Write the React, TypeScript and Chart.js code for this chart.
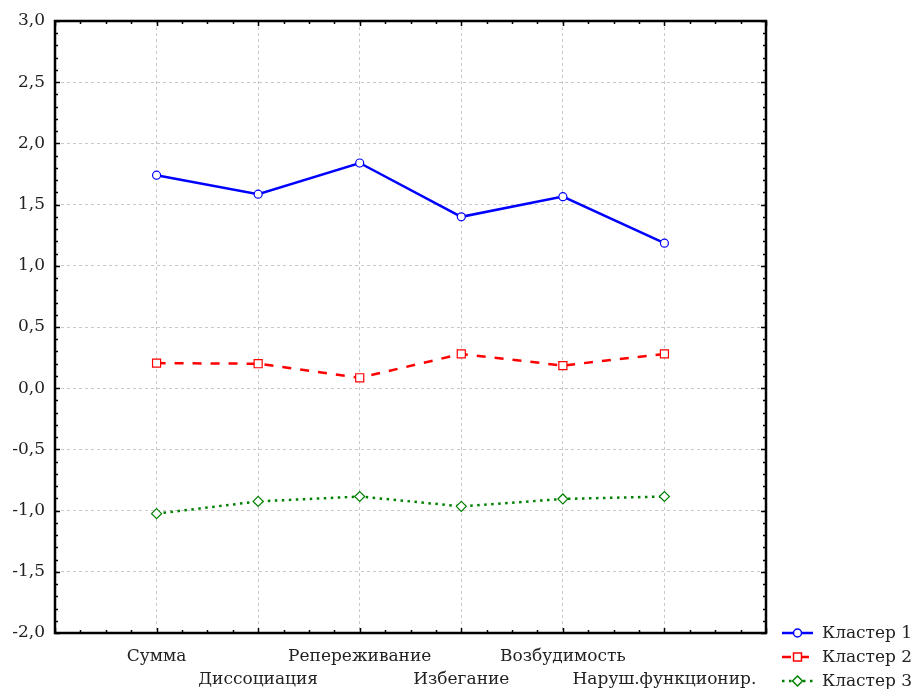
import React, { useEffect, useRef } from 'react';
import { Chart, registerables } from 'chart.js';

Chart.register(...registerables);

const categories = ['Сумма', 'Диссоциация', 'Репереживание', 'Избегание', 'Возбудимость', 'Наруш.функционир.'];
const seriesNames = ['Кластер 1', 'Кластер 2', 'Кластер 3'];
const cluster1 = [1.74, 1.585, 1.84, 1.40, 1.565, 1.185];
const cluster2 = [0.205, 0.20, 0.085, 0.28, 0.185, 0.28];
const cluster3 = [-1.025, -0.925, -0.885, -0.965, -0.905, -0.885];
const yTicksMin = -2;
const yTicksMax = 3;

const FONT = '"DejaVu Serif", serif';

const frameAndTicks = {
  id: 'frameAndTicks',
  afterDraw(chart: any) {
    const { ctx, chartArea: a, scales } = chart;
    const xs = scales.x;
    const ys = scales.y;
    ctx.save();
    ctx.strokeStyle = '#000';
    ctx.lineWidth = 1.5;
    ctx.beginPath();
    for (let i = 0; i <= 28; i++) {
      const v = i / 4;
      const px = Math.round(xs.getPixelForValue(v)) + 0.5;
      const len = i % 4 === 0 ? 5 : 3;
      ctx.moveTo(px, a.bottom);
      ctx.lineTo(px, a.bottom - len);
      ctx.moveTo(px, a.top);
      ctx.lineTo(px, a.top + len);
    }
    for (let i = 0; i <= 50; i++) {
      const v = yTicksMin + i / 10;
      const py = Math.round(ys.getPixelForValue(v)) + 0.5;
      const len = i % 5 === 0 ? 5 : 3;
      ctx.moveTo(a.left, py);
      ctx.lineTo(a.left + len, py);
      ctx.moveTo(a.right, py);
      ctx.lineTo(a.right - len, py);
    }
    ctx.stroke();
    ctx.lineWidth = 2.5;
    ctx.strokeRect(a.left, a.top, a.right - a.left, a.bottom - a.top);
    ctx.restore();
  },
};

function drawMarker(ctx: CanvasRenderingContext2D, style: string, x: number, y: number, color: string) {
  ctx.save();
  ctx.fillStyle = '#fff';
  ctx.strokeStyle = color;
  ctx.lineWidth = 1.5;
  ctx.setLineDash([]);
  ctx.beginPath();
  if (style === 'circle') {
    ctx.arc(x, y, 4, 0, Math.PI * 2);
  } else if (style === 'rect') {
    ctx.rect(x - 4, y - 4, 8, 8);
  } else {
    ctx.moveTo(x, y - 5);
    ctx.lineTo(x + 5, y);
    ctx.lineTo(x, y + 5);
    ctx.lineTo(x - 5, y);
    ctx.closePath();
  }
  ctx.fill();
  ctx.stroke();
  ctx.restore();
}

const customLegend = {
  id: 'customLegend',
  afterDraw(chart: any) {
    const { ctx } = chart;
    const x0 = 782;
    const x1 = 813;
    const tx = 822;
    const y0 = 633;
    const dy = 24;
    ctx.save();
    chart.data.datasets.forEach((ds: any, i: number) => {
      const y = y0 + i * dy;
      ctx.strokeStyle = ds.borderColor;
      ctx.lineWidth = ds.borderWidth;
      ctx.setLineDash(ds.borderDash || []);
      ctx.beginPath();
      ctx.moveTo(x0, y);
      ctx.lineTo(x1, y);
      ctx.stroke();
      drawMarker(ctx, ds.pointStyle, (x0 + x1) / 2, y, ds.borderColor);
      ctx.fillStyle = '#222';
      ctx.font = '17px ' + FONT;
      ctx.textAlign = 'left';
      ctx.textBaseline = 'middle';
      ctx.fillText(ds.label, tx, y + 1);
    });
    ctx.restore();
  },
};

export default function App() {
  const ref = useRef<HTMLCanvasElement>(null);
  useEffect(() => {
    document.body.style.margin = '0';
    const toPts = (arr: number[]) => arr.map((v, i) => ({ x: i + 1, y: v }));
    const chart = new Chart(ref.current!, {
      type: 'line',
      data: {
        datasets: [
          {
            label: seriesNames[0],
            data: toPts(cluster1),
            borderColor: '#0000ff',
            borderWidth: 2.5,
            pointStyle: 'circle',
            pointRadius: 4,
            pointBorderWidth: 1.2,
            pointBackgroundColor: '#ffffff',
            pointBorderColor: '#0000ff',
            tension: 0,
          },
          {
            label: seriesNames[1],
            data: toPts(cluster2),
            borderColor: '#ff0000',
            borderWidth: 2.5,
            borderDash: [9, 9],
            pointStyle: 'rect',
            pointRadius: 5.7,
            pointBorderWidth: 1.2,
            pointBackgroundColor: '#ffffff',
            pointBorderColor: '#ff0000',
            tension: 0,
          },
          {
            label: seriesNames[2],
            data: toPts(cluster3),
            borderColor: '#008000',
            borderWidth: 2.5,
            borderDash: [2.5, 4.5],
            pointStyle: 'rectRot',
            pointRadius: 5,
            pointBorderWidth: 1.2,
            pointBackgroundColor: '#ffffff',
            pointBorderColor: '#008000',
            tension: 0,
          },
        ],
      },
      options: {
        animation: false,
        responsive: false,
        layout: { padding: { left: 0, right: 148, top: 21, bottom: 0 } },
        plugins: { legend: { display: false }, tooltip: { enabled: false } },
        scales: {
          x: {
            type: 'linear',
            min: 0,
            max: 7,
            afterFit: (s: any) => { s.height = 56; },
            ticks: {
              stepSize: 1,
              autoSkip: false,
              maxRotation: 0,
              padding: 13,
              color: '#222',
              font: { family: FONT, size: 17, lineHeight: 1.3 },
              callback: (v: any) => {
                const idx = Math.round(v) - 1;
                const lab = categories[idx];
                if (lab === undefined) return '';
                return idx % 2 === 0 ? lab : ['', lab];
              },
            },
            grid: { color: '#c8c8c8', lineWidth: 1, drawTicks: false },
            border: { display: false, dash: [3, 3] },
          },
          y: {
            type: 'linear',
            min: yTicksMin,
            max: yTicksMax,
            afterFit: (s: any) => { s.width = 55; },
            ticks: {
              stepSize: 0.5,
              padding: 10,
              color: '#222',
              font: { family: FONT, size: 17 },
              callback: (v: any) => Number(v).toFixed(1).replace('.', ','),
            },
            grid: { color: '#c8c8c8', lineWidth: 1, drawTicks: false },
            border: { display: false, dash: [3, 3] },
          },
        },
      },
      plugins: [frameAndTicks, customLegend],
    });
    return () => chart.destroy();
  }, []);
  return <canvas ref={ref} width={914} height={689} style={{ display: 'block' }} />;
}
